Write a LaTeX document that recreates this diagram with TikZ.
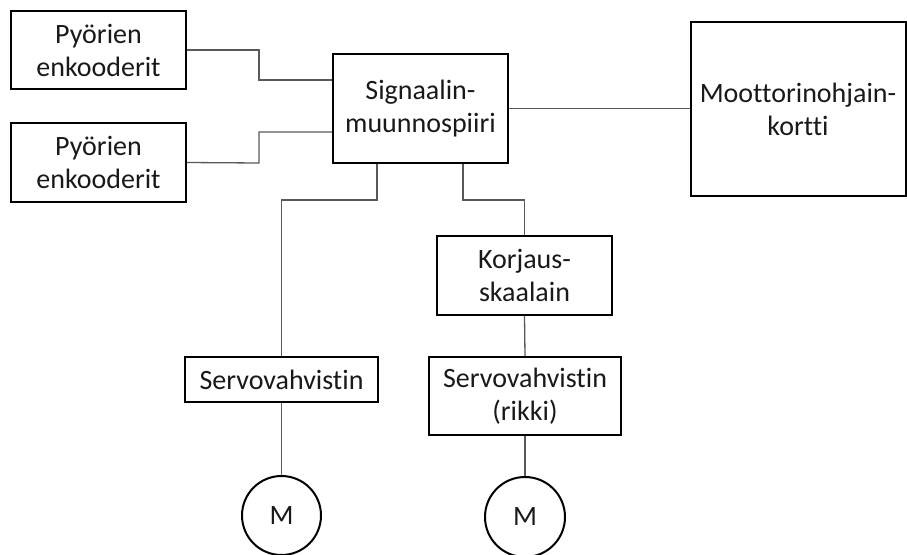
\documentclass[tikz,border=0pt]{standalone}
\usepackage{fontspec}
\setmainfont[Ligatures=NoCommon]{Carlito}
\begin{document}
\begin{tikzpicture}[x=1pt,y=-1pt,
  block/.style={draw=black,line width=2pt,inner sep=0pt,align=center,
    text=black!90,font=\fontsize{28}{33}\selectfont},
  motor/.style={draw=black,line width=2pt,circle,inner sep=0pt,
    text=black!90,font=\fontsize{28}{33}\selectfont},
  wire/.style={draw=black!65,line width=1.3pt}]
\useasboundingbox (0,0) rectangle (907,554);
% blocks
\node[block,minimum width=175pt,minimum height=78pt] (enc1) at (98.5,50) {Pyörien\\enkooderit};
\node[block,minimum width=175pt,minimum height=79pt] (enc2) at (98.5,162.5) {Pyörien\\enkooderit};
\node[block,minimum width=175pt,minimum height=109pt] (sig) at (420.5,108.5) {Signaalin-\\muunnospiiri};
\node[block,minimum width=215pt,minimum height=174pt] (moot) at (798,109) {Moottorinohjain-\\kortti};
\node[block,minimum width=193pt,minimum height=45pt] (servo1) at (281.5,379.5) {Servovahvistin};
\node[block,minimum width=175pt,minimum height=79pt] (korj) at (524.5,275.5) {Korjaus-\\skaalain};
\node[block,minimum width=192pt,minimum height=78pt] (servo2) at (525,396) {Servovahvistin\\(rikki)};
\node[motor,minimum size=79pt] (m1) at (281.5,515.5) {M};
\node[motor,minimum size=80pt] (m2) at (525,517) {M};
% connections
\draw[wire] (enc1.east) -- (259,50) -- (259,80) -- (sig.west |- 0,80);
\draw[wire] (enc2.east) -- (259,163) -- (259,132) -- (sig.west |- 0,132);
\draw[wire] (sig.east) -- (moot.west |- sig.east);
\draw[wire] (377,0 |- sig.south) |- (281.5,200) -- (servo1.north);
\draw[wire] (463,0 |- sig.south) |- (524.5,200) -- (korj.north);
\draw[wire] (korj.south) -- (servo2.north);
\draw[wire] (servo1.south) -- (m1.north);
\draw[wire] (servo2.south) -- (m2.north);
\end{tikzpicture}
\end{document}
